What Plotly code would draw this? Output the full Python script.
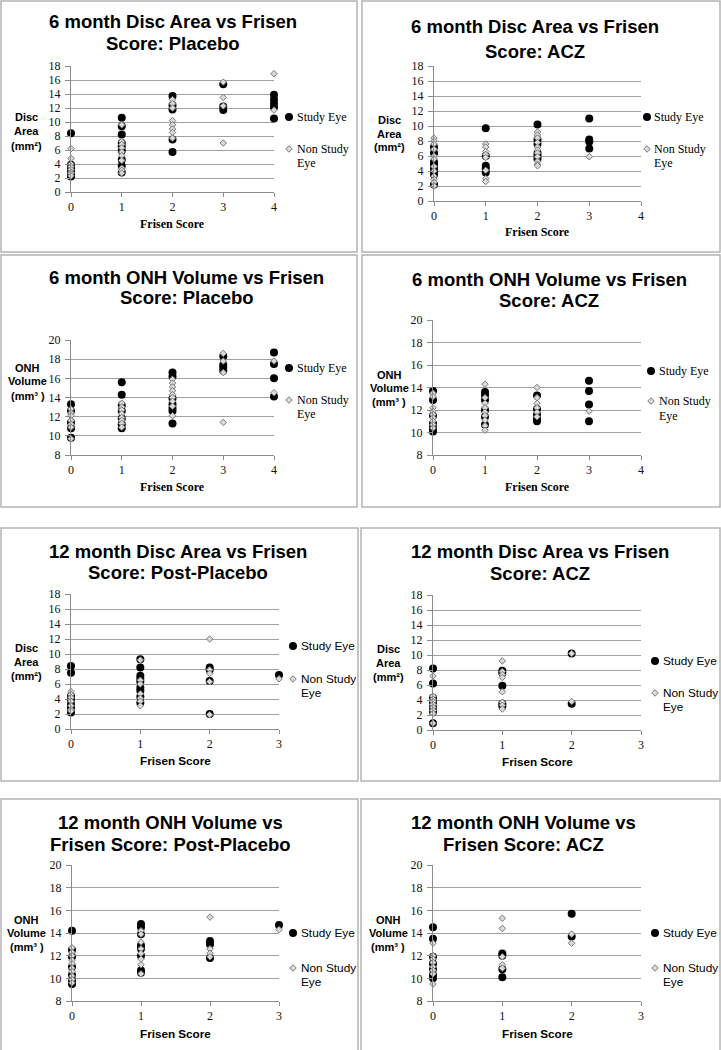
import plotly.graph_objects as go

W, H = 721, 1050

# ---------------- tick labels ----------------
frisen_ticks_4 = [0, 1, 2, 3, 4]
frisen_ticks_3 = [0, 1, 2, 3]
disc_area_ticks = [0, 2, 4, 6, 8, 10, 12, 14, 16, 18]
onh_volume_ticks = [8, 10, 12, 14, 16, 18, 20]

series_study = "Study Eye"
series_non = "Non Study Eye"

# ---------------- data ----------------
# 6 month Disc Area: Placebo
d6p_study_x = [0, 0, 0, 0, 0, 0, 1, 1, 1, 1, 1, 1, 1, 1, 1, 2, 2, 2, 2, 2, 3, 3, 3, 4, 4, 4, 4, 4]
d6p_study_y = [8.4, 3.9, 3.4, 2.9, 2.5, 2.2, 10.6, 9.4, 8.2, 7.0, 6.5, 5.9, 4.6, 3.7, 2.8,
               13.7, 12.4, 11.8, 7.5, 5.7, 15.4, 12.2, 11.7, 13.9, 13.2, 12.6, 12.1, 10.5]
d6p_non_x = [0, 0, 0, 0, 0, 0, 0, 0, 1, 1, 1, 1, 1, 1, 1, 1, 1, 1, 2, 2, 2, 2, 2, 2, 2, 2, 3, 3, 3, 3, 4, 4]
d6p_non_y = [6.2, 4.8, 4.0, 3.6, 3.2, 2.8, 2.6, 2.3, 9.6, 7.2, 6.8, 6.3, 5.7, 5.2, 4.5, 3.4, 3.1, 2.7,
             13.2, 12.6, 12.0, 10.2, 9.6, 9.0, 8.5, 7.7, 15.7, 13.5, 12.3, 7.0, 16.9, 11.7]

# 6 month Disc Area: ACZ
d6a_study_x = [0, 0, 0, 0, 0, 0, 0, 0, 1, 1, 1, 1, 1, 2, 2, 2, 2, 2, 2, 3, 3, 3, 3]
d6a_study_y = [7.2, 6.4, 5.2, 4.8, 4.3, 3.9, 3.5, 2.2, 9.7, 6.0, 4.7, 4.3, 3.8,
               10.2, 8.2, 7.6, 6.4, 6.0, 5.6, 11.0, 8.2, 7.9, 7.0]
d6a_non_x = [0, 0, 0, 0, 0, 0, 0, 0, 0, 0, 0, 0, 1, 1, 1, 1, 1, 1, 1, 1,
             2, 2, 2, 2, 2, 2, 2, 2, 2, 2, 2, 3]
d6a_non_y = [8.4, 8.0, 7.6, 6.9, 6.0, 5.6, 4.6, 4.0, 3.3, 2.9, 2.5, 2.0,
             7.6, 7.2, 6.6, 6.2, 5.8, 4.1, 3.0, 2.6,
             9.2, 8.8, 8.4, 7.8, 7.2, 6.8, 6.4, 5.9, 5.3, 4.9, 4.7, 5.9]

# 6 month ONH Volume: Placebo
o6p_study_x = [0, 0, 0, 0, 0, 1, 1, 1, 1, 1, 1, 1, 2, 2, 2, 2, 2, 2, 2, 3, 3, 3, 3, 4, 4, 4, 4]
o6p_study_y = [13.3, 12.6, 11.4, 10.8, 9.8, 15.6, 14.3, 13.2, 12.6, 11.8, 11.2, 10.8,
               16.6, 16.2, 13.9, 13.3, 12.9, 12.6, 11.3, 18.3, 17.4, 17.1, 16.8, 18.7, 17.5, 16.0, 14.1]
o6p_non_x = [0, 0, 0, 0, 0, 0, 0, 1, 1, 1, 1, 1, 1, 1, 1, 2, 2, 2, 2, 2, 2, 2, 2, 2, 3, 3, 3, 3, 4, 4]
o6p_non_y = [12.8, 12.4, 12.1, 11.6, 11.2, 10.9, 9.7, 13.4, 13.0, 12.7, 12.3, 11.9, 11.6, 11.3, 10.9,
             15.9, 15.5, 15.1, 14.7, 14.3, 14.0, 13.6, 13.1, 12.1, 18.6, 17.8, 16.6, 11.4, 17.8, 14.5]

# 6 month ONH Volume: ACZ
o6a_study_x = [0, 0, 0, 0, 0, 0, 1, 1, 1, 1, 1, 1, 2, 2, 2, 2, 2, 3, 3, 3, 3]
o6a_study_y = [13.7, 12.9, 11.5, 10.8, 10.4, 10.1, 13.6, 13.3, 12.9, 12.0, 11.4, 10.7,
               13.3, 12.1, 11.6, 11.2, 11.0, 14.6, 13.7, 12.5, 11.0]
o6a_non_x = [0, 0, 0, 0, 0, 0, 0, 0, 0, 1, 1, 1, 1, 1, 1, 1, 1, 1, 2, 2, 2, 2, 2, 2, 3]
o6a_non_y = [13.5, 13.2, 12.2, 11.9, 11.6, 11.3, 11.0, 10.7, 10.4,
             14.3, 13.1, 12.6, 12.2, 11.8, 11.5, 11.1, 10.6, 10.2,
             14.0, 13.1, 12.6, 12.2, 11.8, 11.4, 11.9]

# 12 month Disc Area: Post-Placebo
d12p_study_x = [0, 0, 0, 0, 0, 0, 0, 1, 1, 1, 1, 1, 1, 1, 1, 1, 2, 2, 2, 2, 3]
d12p_study_y = [8.4, 7.5, 4.4, 3.9, 3.3, 2.8, 2.2, 9.3, 8.2, 7.1, 6.7, 6.3, 5.5, 5.1, 4.3, 3.5,
                8.2, 7.9, 6.4, 2.0, 7.2]
d12p_non_x = [0, 0, 0, 0, 0, 0, 0, 1, 1, 1, 1, 1, 1, 1, 2, 2, 2, 2, 2, 3]
d12p_non_y = [5.0, 4.6, 4.2, 3.7, 3.1, 2.6, 2.4, 9.2, 6.5, 6.0, 4.7, 4.1, 3.7, 3.1,
              12.0, 7.9, 7.4, 6.3, 1.9, 6.7]

# 12 month Disc Area: ACZ
d12a_study_x = [0, 0, 0, 0, 0, 0, 0, 1, 1, 1, 1, 1, 2, 2]
d12a_study_y = [8.2, 6.2, 4.3, 3.7, 3.0, 2.4, 0.9, 7.9, 7.6, 5.9, 3.5, 3.2, 10.2, 3.5]
d12a_non_x = [0, 0, 0, 0, 0, 0, 0, 0, 0, 1, 1, 1, 1, 1, 1, 1, 1, 2, 2]
d12a_non_y = [7.2, 4.5, 4.1, 3.8, 3.4, 3.0, 2.6, 2.2, 0.9, 9.2, 7.8, 7.4, 7.0, 5.1, 3.7, 3.3, 2.8,
              10.2, 3.8]

# 12 month ONH Volume: Post-Placebo
o12p_study_x = [0, 0, 0, 0, 0, 0, 0, 1, 1, 1, 1, 1, 1, 1, 1, 2, 2, 2, 3]
o12p_study_y = [14.2, 12.5, 11.9, 11.0, 10.3, 9.8, 9.5, 14.8, 14.5, 13.9, 12.9, 12.6, 12.0, 10.7, 10.5,
                13.3, 13.0, 11.8, 14.7]
o12p_non_x = [0, 0, 0, 0, 0, 0, 0, 0, 0, 0, 1, 1, 1, 1, 1, 1, 1, 1, 2, 2, 2, 2, 3]
o12p_non_y = [12.7, 12.3, 12.0, 11.6, 11.3, 10.9, 10.6, 10.2, 9.9, 9.6,
              14.2, 13.9, 13.2, 12.6, 12.2, 11.7, 11.2, 10.4, 15.4, 12.6, 12.2, 11.9, 14.3]

# 12 month ONH Volume: ACZ
o12a_study_x = [0, 0, 0, 0, 0, 0, 0, 1, 1, 1, 1, 2, 2]
o12a_study_y = [14.5, 13.5, 11.9, 11.3, 10.8, 10.3, 10.0, 12.2, 12.0, 10.8, 10.1, 15.7, 13.7]
o12a_non_x = [0, 0, 0, 0, 0, 0, 0, 0, 1, 1, 1, 1, 1, 2, 2]
o12a_non_y = [13.1, 12.0, 11.7, 11.4, 11.0, 10.7, 10.4, 9.5, 15.3, 14.4, 11.9, 11.2, 10.9, 13.9, 13.1]

# ---------------- styling / layout ----------------
SANS = "Liberation Sans, Arial, Helvetica, sans-serif"
SERIF = "Liberation Serif, Times New Roman, serif"
GRID = "#a0a0a0"
AXIS = "#8c8c8c"
BOX = "#b4b4b4"

panels = [
    dict(sx=d6p_study_x, sy=d6p_study_y, nx=d6p_non_x, ny=d6p_non_y,
         xt=frisen_ticks_4, yt=disc_area_ticks, box=(1, 1, 357, 252), plot=(71, 66, 274, 192),
         title=("6 month Disc Area vs Frisen", "Score: Placebo"), tcx=172.5, tys=(22, 43),
         ylab=("Disc", "Area", "(mm²)"), ycx=26, yys=(117, 130.5, 145.5),
         xlab=(172.5, 224), xfont=SERIF, xsize=12,
         leg=(289, 117, 149), ltx=295, leye=163, lfont=SERIF),
    dict(sx=d6a_study_x, sy=d6a_study_y, nx=d6a_non_x, ny=d6a_non_y,
         xt=frisen_ticks_4, yt=disc_area_ticks, box=(362, 1, 720, 252), plot=(434, 66, 641, 201),
         title=("6 month Disc Area vs Frisen", "Score: ACZ"), tcx=534.5, tys=(26, 51),
         ylab=("Disc", "Area", "(mm²)"), ycx=389, yys=(120, 134, 147),
         xlab=(537.5, 232), xfont=SERIF, xsize=12,
         leg=(647, 117, 149), ltx=652, leye=163, lfont=SERIF),
    dict(sx=o6p_study_x, sy=o6p_study_y, nx=o6p_non_x, ny=o6p_non_y,
         xt=frisen_ticks_4, yt=onh_volume_ticks, box=(1, 255, 357, 507), plot=(71, 340, 274, 455),
         title=("6 month ONH Volume vs Frisen", "Score: Placebo"), tcx=186.5, tys=(277, 298),
         ylab=("ONH", "Volume", "(mm³ )"), ycx=28, yys=(368, 381, 396),
         xlab=(172.5, 487), xfont=SERIF, xsize=12,
         leg=(289, 368, 400), ltx=295, leye=414, lfont=SERIF),
    dict(sx=o6a_study_x, sy=o6a_study_y, nx=o6a_non_x, ny=o6a_non_y,
         xt=frisen_ticks_4, yt=onh_volume_ticks, box=(362, 255, 720, 507), plot=(433, 320, 641, 455),
         title=("6 month ONH Volume vs Frisen", "Score: ACZ"), tcx=549, tys=(279, 300),
         ylab=("ONH", "Volume", "(mm³ )"), ycx=389, yys=(375, 388, 402),
         xlab=(537, 487), xfont=SERIF, xsize=12,
         leg=(651, 371, 401), ltx=657, leye=416, lfont=SERIF),
    dict(sx=d12p_study_x, sy=d12p_study_y, nx=d12p_non_x, ny=d12p_non_y,
         xt=frisen_ticks_3, yt=disc_area_ticks, box=(1, 528, 358, 781), plot=(71, 594, 279, 729),
         title=("12 month Disc Area vs Frisen", "Score: Post-Placebo"), tcx=178, tys=(551, 572),
         ylab=("Disc", "Area", "(mm²)"), ycx=26, yys=(648, 662, 676),
         xlab=(175, 760), xfont=SANS, xsize=11.7,
         leg=(293, 646, 679), ltx=299, leye=693, lfont=SANS),
    dict(sx=d12a_study_x, sy=d12a_study_y, nx=d12a_non_x, ny=d12a_non_y,
         xt=frisen_ticks_3, yt=disc_area_ticks, box=(361, 528, 720, 781), plot=(433, 595, 641, 730),
         title=("12 month Disc Area vs Frisen", "Score: ACZ"), tcx=540, tys=(551, 573),
         ylab=("Disc", "Area", "(mm²)"), ycx=388, yys=(649, 663, 677),
         xlab=(537, 761.5), xfont=SANS, xsize=11.7,
         leg=(655, 661, 693), ltx=661, leye=707, lfont=SANS),
    dict(sx=o12p_study_x, sy=o12p_study_y, nx=o12p_non_x, ny=o12p_non_y,
         xt=frisen_ticks_3, yt=onh_volume_ticks, box=(1, 799, 358, 1052), plot=(72, 865, 279, 1001),
         title=("12 month ONH Volume vs", "Frisen Score: Post-Placebo"), tcx=170, tys=(822, 844),
         ylab=("ONH", "Volume", "(mm³ )"), ycx=27, yys=(920, 933, 947),
         xlab=(175.5, 1033), xfont=SANS, xsize=11.7,
         leg=(293, 933, 968), ltx=299, leye=982, lfont=SANS),
    dict(sx=o12a_study_x, sy=o12a_study_y, nx=o12a_non_x, ny=o12a_non_y,
         xt=frisen_ticks_3, yt=onh_volume_ticks, box=(361, 799, 720, 1052), plot=(433, 865, 641, 1001),
         title=("12 month ONH Volume vs", "Frisen Score: ACZ"), tcx=523.5, tys=(822, 844),
         ylab=("ONH", "Volume", "(mm³ )"), ycx=388, yys=(920, 933, 947),
         xlab=(537, 1033), xfont=SANS, xsize=11.7,
         leg=(655, 933, 968), ltx=661, leye=982, lfont=SANS),
]


def fx(px):
    return px / W


def fy(py):
    return 1 - py / H


fig = go.Figure()
layout = dict(width=W, height=H, margin=dict(l=0, r=0, t=0, b=0, pad=0, autoexpand=False),
              autosize=False, paper_bgcolor="white", plot_bgcolor="white", showlegend=True)
annotations = []
shapes = []

for i, p in enumerate(panels, start=1):
    sfx = "" if i == 1 else str(i)
    xa, ya, lg = "x" + sfx, "y" + sfx, "legend" + sfx
    x0, y0, x1, y1 = p["plot"]
    yt = p["yt"]
    xt = p["xt"]

    fig.add_trace(go.Scatter(
        x=p["sx"], y=p["sy"], mode="markers", name="", xaxis=xa, yaxis=ya,
        legend=lg, legendgroup="s%d" % i, showlegend=True, cliponaxis=False,
        marker=dict(symbol="circle", size=8, color="black", line=dict(width=0)),
        hovertemplate=series_study + ": %{y}<extra></extra>"))
    fig.add_trace(go.Scatter(
        x=p["nx"], y=p["ny"], mode="markers", name="", xaxis=xa, yaxis=ya,
        legend=lg, legendgroup="n%d" % i, showlegend=True, cliponaxis=False,
        marker=dict(symbol="diamond", size=5, color="#dadada", line=dict(width=1, color="#7a7a7a")),
        hovertemplate=series_non + ": %{y}<extra></extra>"))

    layout["xaxis" + sfx] = dict(
        domain=[fx(x0), fx(x1)], range=[xt[0], xt[-1]], anchor=ya,
        tickmode="array", tickvals=xt, ticktext=[str(v) for v in xt],
        showgrid=False, zeroline=False, showline=True, linecolor=AXIS, linewidth=1,
        ticks="outside", ticklen=4, tickcolor=AXIS, automargin=False,
        tickfont=dict(family=SERIF, size=12, color="#111"), fixedrange=True)
    layout["yaxis" + sfx] = dict(
        domain=[fy(y1), fy(y0)], range=[yt[0], yt[-1]], anchor=xa,
        tickmode="array", tickvals=yt, ticktext=[str(v) for v in yt],
        showgrid=True, gridcolor=GRID, gridwidth=1, zeroline=False,
        showline=True, linecolor=AXIS, linewidth=1, automargin=False,
        ticks="outside", ticklen=5, tickcolor=AXIS, ticklabelstandoff=2,
        tickfont=dict(family=SERIF, size=12, color="#111"), fixedrange=True)

    mx, my1, my2 = p["leg"]
    layout[lg] = dict(
        x=fx(mx - 20), y=fy(my1 - 14.5), xanchor="left", yanchor="top",
        bgcolor="rgba(0,0,0,0)", borderwidth=0, traceorder="grouped",
        tracegroupgap=(my2 - my1) - 19, font=dict(size=12), itemclick=False, itemdoubleclick=False)

    # panel frame
    bx0, by0, bx1, by1 = p["box"]
    shapes.append(dict(type="rect", xref="paper", yref="paper",
                       x0=fx(bx0), x1=fx(bx1), y0=fy(by1), y1=fy(by0),
                       line=dict(color=BOX, width=1.5), fillcolor="rgba(0,0,0,0)", layer="below"))

    # title (two lines)
    for txt, ty in zip(p["title"], p["tys"]):
        annotations.append(dict(text=txt, xref="paper", yref="paper", x=fx(p["tcx"]), y=fy(ty),
                                xanchor="center", yanchor="middle", showarrow=False,
                                font=dict(family=SANS, size=18.5, color="black", weight="bold")))
    # y label
    for txt, ty in zip(p["ylab"], p["yys"]):
        annotations.append(dict(text=txt, xref="paper", yref="paper", x=fx(p["ycx"]), y=fy(ty),
                                xanchor="center", yanchor="middle", showarrow=False,
                                font=dict(family=SANS, size=11, color="black", weight="bold")))
    # x label
    xlx, xly = p["xlab"]
    annotations.append(dict(text="Frisen Score", xref="paper", yref="paper", x=fx(xlx), y=fy(xly),
                            xanchor="center", yanchor="middle", showarrow=False,
                            font=dict(family=p["xfont"], size=p["xsize"], color="black", weight="bold")))
    # legend labels
    lsize = 12 if p["lfont"] == SERIF else 11.8
    for txt, ty in ((series_study, my1), ("Non Study", my2), ("Eye", p["leye"])):
        annotations.append(dict(text=txt, xref="paper", yref="paper", x=fx(p["ltx"]), y=fy(ty),
                                xanchor="left", yanchor="middle", showarrow=False,
                                font=dict(family=p["lfont"], size=lsize, color="black")))

layout["annotations"] = annotations
layout["shapes"] = shapes
fig.update_layout(**layout)
fig.write_html(
    "out.html",
    config={"displayModeBar": False, "responsive": False},
    post_script="document.body.style.margin='0';document.body.style.overflow='hidden';",
)
